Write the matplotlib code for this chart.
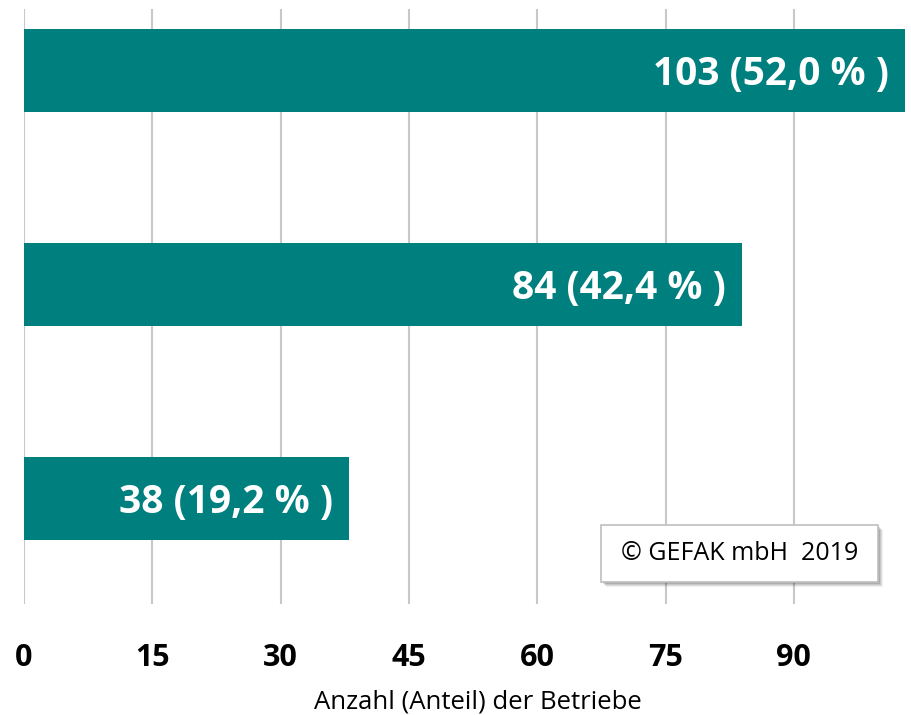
import matplotlib.pyplot as plt
from matplotlib.patches import FancyBboxPatch

# data (bottom to top)
counts = [38, 84, 103]
shares = ['19,2', '42,4', '52,0']
ticks = [0, 15, 30, 45, 60, 75, 90]
xlabel = 'Anzahl (Anteil) der Betriebe'
note = '\u00a9 GEFAK mbH  2019'

TEAL = '#007F7F'
GRID = '#C8C8C8'
FONT = 'Open Sans'

W, H = 911, 715
fig = plt.figure(figsize=(W / 100, H / 100), dpi=100)
ax = fig.add_axes([24 / W, 1 - 604 / H, (905 - 24) / W, (604 - 9) / H])

ypos = list(range(len(counts)))
ax.barh(ypos, counts, height=0.39, color=TEAL, zorder=2)

for y, c, s in zip(ypos, counts, shares):
    ax.text(c - 1.9, y, f'{c} ({s} % )', ha='right', va='center_baseline',
            color='white', fontsize=28, fontweight='bold', family=FONT, zorder=3)

ax.set_xlim(0, 103)
ax.set_ylim(-0.493, 2.287)
ax.set_xticks(ticks)
ax.set_xticklabels([str(t) for t in ticks], fontsize=22, fontweight='bold', family=FONT)
ax.tick_params(axis='x', length=0, pad=28)
ax.set_yticks([])
ax.grid(axis='x', color=GRID, lw=1.5, zorder=0)
for sp in ax.spines.values():
    sp.set_visible(False)

fig.text(478 / W, 1 - 702 / H, xlabel, ha='center', va='center',
         fontsize=18.5, family=FONT)

# copyright box with soft shadow
bx0, by0, bx1, by1 = 601, 525, 878, 582
for i, a in enumerate([0.06, 0.08, 0.1, 0.12]):
    off = 5 - i
    shadow = FancyBboxPatch(((bx0 + off) / W, 1 - (by1 + off) / H),
                            (bx1 - bx0) / W, (by1 - by0) / H,
                            boxstyle='square,pad=0', transform=fig.transFigure,
                            facecolor='black', edgecolor='none', alpha=a, zorder=4)
    fig.patches.append(shadow)
box = FancyBboxPatch((bx0 / W, 1 - by1 / H), (bx1 - bx0) / W, (by1 - by0) / H,
                     boxstyle='square,pad=0', transform=fig.transFigure,
                     facecolor='white', edgecolor='#BFBFBF', lw=1.2, zorder=5)
fig.patches.append(box)
fig.text((bx0 + bx1) / 2 / W, 1 - (by0 + by1) / 2 / H, note, ha='center',
         va='center', fontsize=18, family=FONT, zorder=6)

fig.savefig('out.png', dpi=100)
